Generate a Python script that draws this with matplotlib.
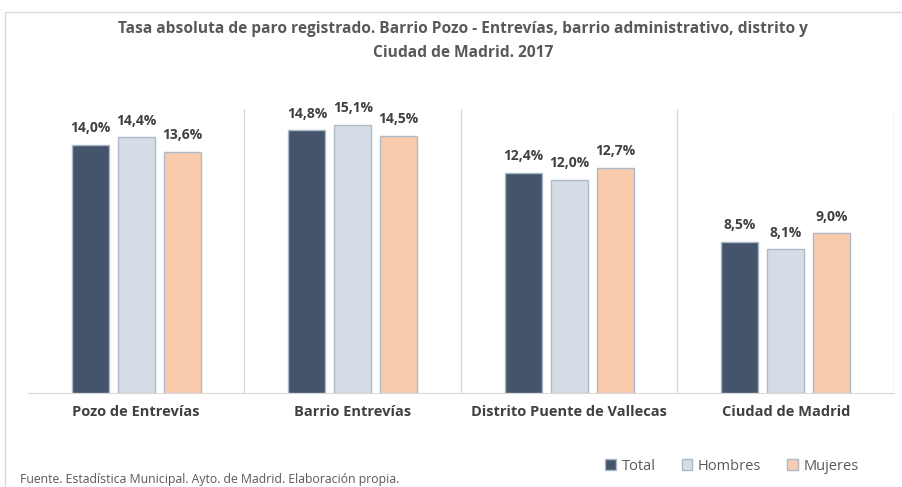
import matplotlib
matplotlib.use("Agg")
import matplotlib.pyplot as plt
from matplotlib.patches import Rectangle
import numpy as np

plt.rcParams['font.family'] = ['Open Sans', 'DejaVu Sans']

categories = ["Pozo de Entrevías", "Barrio Entrevías", "Distrito Puente de Vallecas", "Ciudad de Madrid"]
series_names = ["Total", "Hombres", "Mujeres"]
total = [14.0, 14.8, 12.4, 8.5]
hombres = [14.4, 15.1, 12.0, 8.1]
mujeres = [13.6, 14.5, 12.7, 9.0]
values = [total, hombres, mujeres]
colors = ["#44546A", "#D6DCE5", "#F8CBAD"]
edge = "#ADB9CA"
text_color = "#404040"

fig = plt.figure(figsize=(9.03, 4.87), dpi=100)
# outer frame
fig.patches.append(Rectangle((5/903, -0.05), 1.0, 1 - 12/487 + 0.05, transform=fig.transFigure,
                             fill=False, edgecolor="#D9D9D9", linewidth=1.0))

ax = fig.add_axes([28/903, 1 - 393/487, 866/903, 284/487])
x = np.arange(len(categories))
w = 0.17
step = 0.212
for i, (vals, c) in enumerate(zip(values, colors)):
    pos = x + (i - 1) * step
    ax.bar(pos, vals, width=w, color=c, edgecolor=edge, linewidth=1.0, label=series_names[i], zorder=3)
    for p, v in zip(pos, vals):
        ax.annotate(f"{v:.1f}%".replace(".", ","), (p, v), xytext=(0, 7), textcoords="offset points",
                    ha="center", va="bottom", fontsize=10, fontweight="bold", color=text_color)

ax.set_xlim(-0.5, len(categories) - 0.5)
ax.set_ylim(0, 16.0)
ax.set_yticks([])
ax.set_xticks(x)
ax.set_xticklabels(categories, fontsize=10.5, fontweight="bold", color=text_color)
ax.tick_params(axis="x", length=0, pad=9)
for s in ["top", "left", "right"]:
    ax.spines[s].set_visible(False)
ax.spines["bottom"].set_color("#D9D9D9")
for b in np.arange(0.5, len(categories) - 0.5, 1.0):
    ax.axvline(b, color="#D9D9D9", linewidth=1.0, zorder=1)
ax.axvline(len(categories) - 0.5, color="#D9D9D9", linewidth=1.0, zorder=1)

fig.text(463/903, 1 - 29/487, "Tasa absoluta de paro registrado. Barrio Pozo - Entrevías, barrio administrativo, distrito y",
         ha="center", va="center", fontsize=11.2, fontweight="bold", color="#595959")
fig.text(463/903, 1 - 53/487, "Ciudad de Madrid. 2017",
         ha="center", va="center", fontsize=11.2, fontweight="bold", color="#595959")

leg = fig.legend(loc="center", bbox_to_anchor=(732/903, 1 - 466/487), ncol=3, frameon=False,
                 fontsize=10.5, handlelength=0.7, handleheight=0.7, columnspacing=1.8, handletextpad=0.4)
for t in leg.get_texts():
    t.set_color("#595959")

fig.text(20/903, 1 - 480/487, "Fuente. Estadística Municipal. Ayto. de Madrid. Elaboración propia.",
         ha="left", va="center", fontsize=8.8, color="#595959")

fig.savefig("out.png", dpi=100)
